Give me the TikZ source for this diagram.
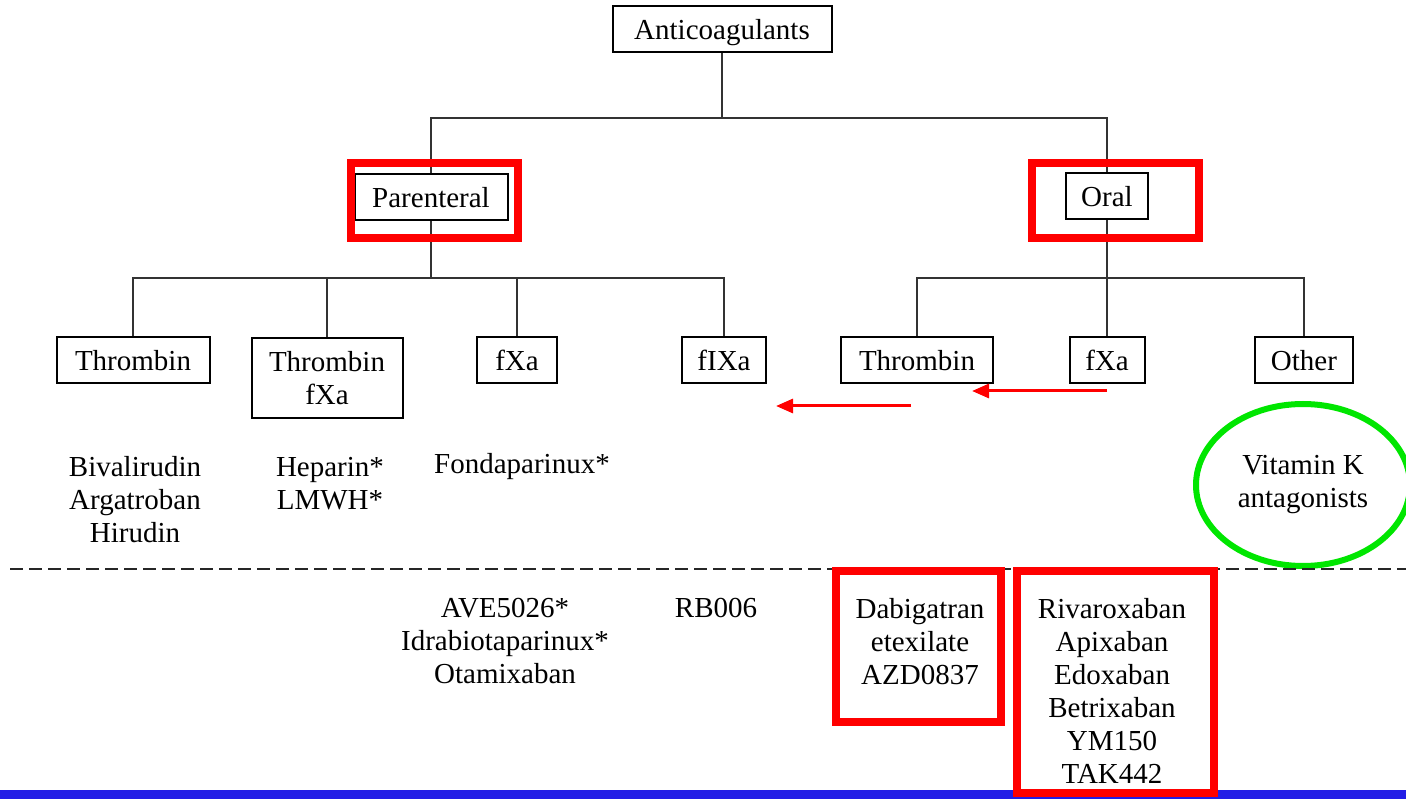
\documentclass[tikz,border=0pt]{standalone}
\usepackage{fontspec}
\setmainfont{Liberation Serif}
\usetikzlibrary{arrows.meta,shapes.geometric}
\definecolor{hlred}{RGB}{255,0,0}
\definecolor{hlgreen}{RGB}{0,230,0}
\definecolor{barblue}{RGB}{35,30,230}
\begin{document}
\begin{tikzpicture}[x=1pt,y=-1pt,
  font=\fontsize{29}{33}\selectfont,
  box/.style={draw, fill=white, line width=2pt, inner sep=0pt, align=center, minimum height=46pt},
  sbox/.style={box, text height=24pt, text depth=2pt},
  conn/.style={line width=1.6pt, draw=black!80},
  hlbox/.style={draw=hlred, line width=8pt, inner sep=0pt},
  redarrow/.style={draw=hlred, line width=3pt, -{Triangle[length=17pt,width=14pt]}},
  lbl/.style={align=center, inner sep=0pt}]
\useasboundingbox (0,0) rectangle (1406,799);
\fill[white] (0,0) rectangle (1406,799);

% blue bar
\fill[barblue] (0,790) rectangle (1406,799);

% junctions
\coordinate (j0) at (722,118);
\coordinate (j1) at (431,278);
\coordinate (j2) at (1107,278);

% boxes
\node[sbox, minimum width=219pt, minimum height=46pt] (anti) at (722,29) {Anticoagulants};
\node[sbox, minimum width=153pt] (par) at (431,197) {Parenteral};
\node[sbox, minimum width=82pt] (oral) at (1107,196) {Oral};
\node[sbox, minimum width=153pt] (t1) at (133,360) {Thrombin};
\node[box, minimum width=151pt, minimum height=80pt] (tf) at (327,378) {Thrombin\\fXa};
\node[sbox, minimum width=80pt] (fxa1) at (517,360) {fXa};
\node[sbox, minimum width=84pt] (fixa) at (724,360) {fIXa};
\node[sbox, minimum width=152pt] (t2) at (917,360) {Thrombin};
\node[sbox, minimum width=75pt] (fxa2) at (1107,360) {fXa};
\node[sbox, minimum width=98pt] (other) at (1304,360) {Other};

% connectors
\draw[conn] (anti) -- (j0);
\draw[conn] (j0) -| (par);
\draw[conn] (j0) -| (oral);
\draw[conn] (par) -- (j1);
\draw[conn] (j1) -| (t1);
\draw[conn] (j1) -| (tf);
\draw[conn] (j1) -| (fxa1);
\draw[conn] (j1) -| (fixa);
\draw[conn] (oral) -- (j2);
\draw[conn] (j2) -| (t2);
\draw[conn] (j2) -- (fxa2);
\draw[conn] (j2) -| (other);

% red arrows
\coordinate (a1s) at (1107,391);
\coordinate (a1e) at (972,391);
\coordinate (a2s) at (911,406);
\coordinate (a2e) at (776,406);
\draw[redarrow] (a1s) -- (a1e);
\draw[redarrow] (a2s) -- (a2e);

% drug lists
\node[lbl] (l1) at (135,500) {Bivalirudin\\Argatroban\\Hirudin};
\node[lbl] (l2) at (330,483.5) {Heparin*\\LMWH*};
\node[lbl] (l3) at (522,467) {Fondaparinux*};
\node[lbl] (l4) at (505,641) {AVE5026*\\Idrabiotaparinux*\\Otamixaban};
\node[lbl] (l5) at (716,608) {RB006};
\node[lbl] (l6) at (920,642) {Dabigatran\\etexilate\\AZD0837};
\node[lbl] (l7) at (1112,691) {Rivaroxaban\\Apixaban\\Edoxaban\\Betrixaban\\YM150\\TAK442};

% green ellipse
\node[ellipse, draw=hlgreen, line width=6pt, minimum width=214pt, minimum height=162pt, align=center, inner sep=0pt] (vka) at (1303,485) {Vitamin K\\antagonists};

% dashed separator
\coordinate (dl) at (10,569);
\coordinate (dr) at (1406,569);
\draw[line width=2pt, dash pattern=on 13pt off 6pt, black!85] (dl) -- (dr);

% red highlight boxes
\node[hlbox, minimum width=167pt, minimum height=75pt] (hpar) at (434.5,200.5) {};
\node[hlbox, minimum width=167pt, minimum height=75pt] (horal) at (1115.5,200.5) {};
\node[hlbox, minimum width=165pt, minimum height=151pt] (hdab) at (918.5,646.5) {};
\node[hlbox, minimum width=197pt, minimum height=222pt] (hriv) at (1115.5,682) {};
\end{tikzpicture}
\end{document}
